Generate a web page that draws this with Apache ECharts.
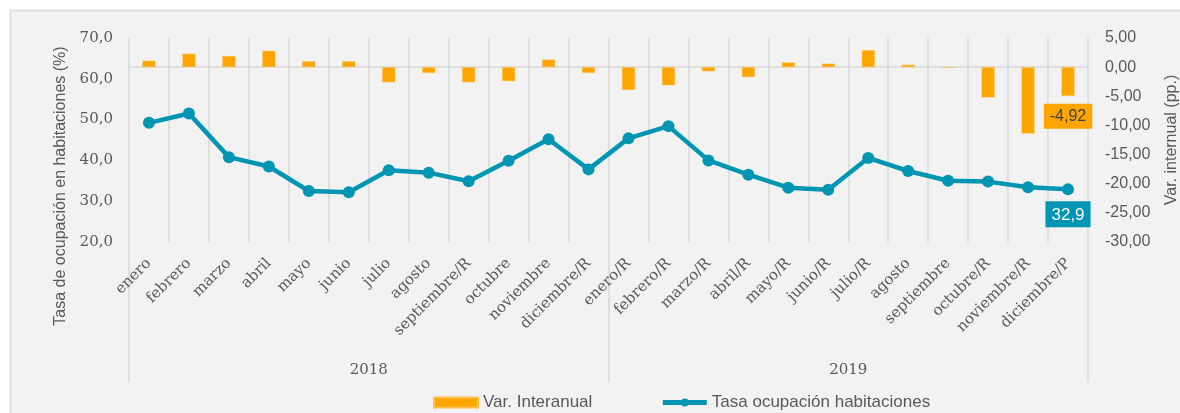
<!DOCTYPE html>
<html>
<head>
<meta charset="utf-8">
<title>Tasa de ocupación habitaciones</title>
<script src="https://cdn.jsdelivr.net/npm/echarts@6/dist/echarts.min.js"></script>
<style>
  html, body { margin: 0; padding: 0; background: #fff; }
  #chart { width: 1180px; height: 413px; }
</style>
</head>
<body>
<div id="chart"></div>
<script>
// meses (nivel inferior del eje)
var months = ['enero', 'febrero', 'marzo', 'abril', 'mayo', 'junio', 'julio', 'agosto',
  'septiembre/R', 'octubre', 'noviembre', 'diciembre/R',
  'enero/R', 'febrero/R', 'marzo/R', 'abril/R', 'mayo/R', 'junio/R', 'julio/R', 'agosto',
  'septiembre', 'octubre/R', 'noviembre/R', 'diciembre/P'];
// años (nivel superior)
var years = ['2018', '2019'];
// variación interanual (pp.)
var varInteranual = [1.1, 2.3, 1.9, 2.8, 1.0, 1.0, -2.6, -1.0, -2.6, -2.4, 1.3, -1.0,
  -3.9, -3.1, -0.7, -1.7, 0.8, 0.6, 2.9, 0.4, -0.1, -5.2, -11.4, -4.92];
// tasa de ocupación (%)
var tasa = [49.2, 51.5, 40.8, 38.5, 32.5, 32.2, 37.6, 37.0, 34.9, 39.9, 45.2, 37.8,
  45.4, 48.4, 40.0, 36.5, 33.3, 32.8, 40.6, 37.4, 35.0, 34.8, 33.4, 32.9];

var orange = '#FFA500';
var teal = '#0095B3';
var grey = '#D9D9D9';
var txt = '#595959';

function comma(v, d) {
  return Number(v).toFixed(d).replace('.', ',');
}

var last = months.length - 1;

// solo el ultimo dato lleva etiqueta
var barData = varInteranual.map(function (v, i) {
  if (i !== last) return v;
  return {
    value: v,
    label: {
      show: true,
      position: 'bottom',
      distance: 8,
      formatter: function (p) { return comma(p.value, 2); },
      backgroundColor: orange,
      color: '#404040',
      fontFamily: 'Liberation Sans',
      fontSize: 16,
      padding: [5, 6, 4, 6]
    }
  };
});

var lineData = tasa.map(function (v, i) {
  if (i !== last) return v;
  return {
    value: v,
    label: {
      show: true,
      position: 'bottom',
      distance: 6,
      formatter: function (p) { return comma(p.value, 1); },
      backgroundColor: teal,
      color: '#fff',
      fontFamily: 'Liberation Sans',
      fontSize: 17,
      padding: [5, 6, 4, 6]
    }
  };
});

var chart = echarts.init(document.getElementById('chart'));

var option = {
  backgroundColor: '#fff',
  animation: false,
  graphic: [{
    type: 'rect',
    z: -10,
    silent: true,
    shape: { x: 10.5, y: 10.5, width: 1200, height: 420 },
    style: { fill: '#F2F2F2', stroke: grey, lineWidth: 1.5 }
  }],
  legend: {
    left: 428,
    top: 389,
    itemWidth: 44,
    itemHeight: 10,
    itemGap: 68,
    textStyle: { color: txt, fontFamily: 'Liberation Sans', fontSize: 17 },
    data: [
      { name: 'Var. Interanual', icon: 'rect' },
      { name: 'Tasa ocupación habitaciones', lineStyle: { width: 5 } }
    ]
  },
  grid: { left: 129, right: 92, top: 38, bottom: 171, outerBoundsMode: 'none' },
  xAxis: [{
    type: 'category',
    data: months,
    axisLine: { show: true, lineStyle: { color: grey, width: 1.5 } },
    axisTick: { show: false },
    splitLine: { show: true, interval: 0, lineStyle: { color: grey, width: 1.5 } },
    axisLabel: {
      interval: 0,
      rotate: 45,
      margin: 19,
      color: txt,
      fontFamily: 'DejaVu Serif',
      fontSize: 15
    }
  }, {
    type: 'category',
    data: years,
    position: 'bottom',
    axisLine: { show: false },
    axisTick: { show: true, interval: 0, length: 140, lineStyle: { color: grey, width: 1.5 } },
    axisLabel: {
      interval: 0,
      margin: 121,
      color: txt,
      fontFamily: 'DejaVu Serif',
      fontSize: 15
    }
  }],
  yAxis: [{
    type: 'value',
    min: 20,
    max: 70,
    interval: 10,
    name: 'Tasa de ocupación en habitaciones (%)',
    nameLocation: 'middle',
    nameGap: 60,
    nameTextStyle: {
      color: txt,
      fontFamily: 'Liberation Sans',
      fontSize: 16,
      padding: [0, 92, 0, 0]
    },
    axisLine: { show: false },
    axisTick: { show: false },
    splitLine: { show: false },
    axisLabel: {
      margin: 16,
      color: txt,
      fontFamily: 'DejaVu Serif',
      fontSize: 15,
      formatter: function (v) { return comma(v, 1); }
    }
  }, {
    type: 'value',
    min: -30,
    max: 5,
    interval: 5,
    name: 'Var. internual (pp.)',
    nameLocation: 'middle',
    nameGap: 76,
    nameTextStyle: { color: txt, fontFamily: 'Liberation Sans', fontSize: 16 },
    axisLine: { show: false },
    axisTick: { show: false },
    splitLine: { show: false },
    axisLabel: {
      margin: 17,
      align: 'left',
      color: txt,
      fontFamily: 'Liberation Sans',
      fontSize: 16,
      formatter: function (v) { return comma(v, 2); }
    }
  }],
  series: [{
    name: 'Var. Interanual',
    type: 'bar',
    xAxisIndex: 0,
    yAxisIndex: 1,
    barWidth: 13,
    itemStyle: { color: orange, borderColor: '#FFC04D', borderWidth: 0.5 },
    data: barData
  }, {
    name: 'Tasa ocupación habitaciones',
    type: 'line',
    xAxisIndex: 0,
    yAxisIndex: 0,
    symbol: 'circle',
    symbolSize: 12,
    lineStyle: { color: teal, width: 4.5 },
    itemStyle: { color: teal },
    data: lineData,
    z: 5
  }]
};

chart.setOption(option);
</script>
</body>
</html>
